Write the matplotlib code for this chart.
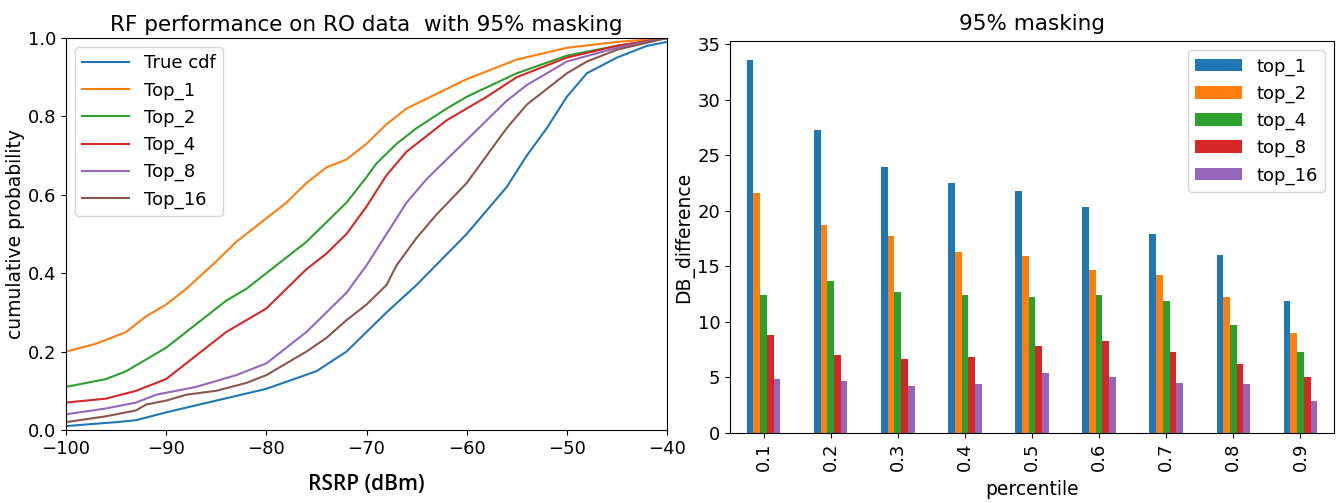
import numpy as np
import pandas as pd
import matplotlib
matplotlib.use("Agg")
import matplotlib.pyplot as plt

# ---- left panel: CDF curves (RSRP dBm, cumulative probability) ----
true_x = [-100, -95, -93, -90, -85, -80, -75, -72, -70, -68, -65, -60, -56, -54, -52, -50, -48, -45, -42, -40]
true_y = [0.01, 0.02, 0.025, 0.045, 0.075, 0.105, 0.15, 0.20, 0.25, 0.30, 0.37, 0.50, 0.62, 0.70, 0.77, 0.85, 0.91, 0.95, 0.98, 0.99]

top1_x = [-100, -97, -94, -92, -90, -88, -85, -83, -80, -78, -76, -74, -72, -70, -68, -66, -64, -62, -60, -55, -50, -45, -40]
top1_y = [0.20, 0.22, 0.25, 0.29, 0.32, 0.36, 0.43, 0.48, 0.54, 0.58, 0.63, 0.67, 0.69, 0.73, 0.78, 0.82, 0.845, 0.87, 0.895, 0.945, 0.975, 0.99, 1.0]

top2_x = [-100, -96, -94, -92, -90, -88, -86, -84, -82, -80, -78, -76, -74, -72, -70, -69, -67, -65, -62, -60, -55, -50, -45, -40]
top2_y = [0.11, 0.13, 0.15, 0.18, 0.21, 0.25, 0.29, 0.33, 0.36, 0.40, 0.44, 0.48, 0.53, 0.58, 0.645, 0.68, 0.73, 0.77, 0.82, 0.85, 0.91, 0.955, 0.98, 1.0]

top4_x = [-100, -96, -93, -91, -90, -88, -86, -84, -82, -80, -78, -76, -74, -72, -70, -68, -66, -64, -62, -60, -58, -55, -50, -45, -40]
top4_y = [0.07, 0.08, 0.10, 0.12, 0.13, 0.17, 0.21, 0.25, 0.28, 0.31, 0.36, 0.41, 0.45, 0.50, 0.57, 0.65, 0.71, 0.75, 0.79, 0.82, 0.85, 0.90, 0.95, 0.98, 1.0]

top8_x = [-100, -96, -93, -91, -89, -87, -85, -83, -80, -78, -76, -74, -72, -70, -68, -66, -64, -62, -60, -58, -56, -54, -52, -50, -45, -40]
top8_y = [0.04, 0.055, 0.07, 0.09, 0.10, 0.11, 0.125, 0.14, 0.17, 0.21, 0.25, 0.30, 0.35, 0.42, 0.50, 0.58, 0.64, 0.69, 0.74, 0.79, 0.84, 0.88, 0.91, 0.94, 0.975, 1.0]

top16_x = [-100, -96, -93, -92, -90, -88, -85, -82, -80, -78, -76, -74, -72, -70, -68, -67, -65, -63, -60, -58, -56, -54, -52, -50, -48, -45, -40]
top16_y = [0.02, 0.035, 0.05, 0.065, 0.075, 0.09, 0.10, 0.12, 0.14, 0.17, 0.20, 0.235, 0.28, 0.32, 0.37, 0.42, 0.49, 0.55, 0.63, 0.70, 0.77, 0.83, 0.87, 0.91, 0.94, 0.97, 1.0]

cdf_labels = ["True cdf", "Top_1", "Top_2", "Top_4", "Top_8", "Top_16"]

# ---- right panel: dB difference per percentile ----
percentiles = ["0.1", "0.2", "0.3", "0.4", "0.5", "0.6", "0.7", "0.8", "0.9"]
top_1 = [33.6, 27.3, 23.9, 22.5, 21.8, 20.3, 17.9, 16.0, 11.9]
top_2 = [21.6, 18.7, 17.7, 16.3, 15.9, 14.7, 14.2, 12.2, 9.0]
top_4 = [12.4, 13.7, 12.7, 12.4, 12.2, 12.4, 11.9, 9.7, 7.3]
top_8 = [8.8, 7.0, 6.7, 6.8, 7.8, 8.3, 7.3, 6.2, 5.0]
top_16 = [4.9, 4.7, 4.2, 4.4, 5.4, 5.0, 4.5, 4.4, 2.9]

plt.rcParams["font.size"] = 13

fig = plt.figure(figsize=(13.4, 5.03), dpi=100)
ax1 = fig.add_axes([66 / 1340, 1 - 430 / 503, 601 / 1340, 392 / 503])
ax2 = fig.add_axes([730 / 1340, 1 - 433 / 503, 604 / 1340, 392 / 503])

curves = [(true_x, true_y), (top1_x, top1_y), (top2_x, top2_y),
          (top4_x, top4_y), (top8_x, top8_y), (top16_x, top16_y)]
for (xs, ys), lab in zip(curves, cdf_labels):
    ax1.plot(xs, ys, label=lab, linewidth=1.5)
ax1.set_xlim(-100, -40)
ax1.set_ylim(0, 1)
ax1.set_ylabel("cumulative probability", fontsize=13.5, labelpad=2)
ax1.set_xlabel("RSRP (dBm)", fontsize=15, family="Open Sans", fontweight="semibold", labelpad=12)
ax1.set_title("RF performance on RO data  with 95% masking", fontsize=15.5, pad=5)
ax1.legend(loc="upper left", handlelength=2.6)

df = pd.DataFrame({"top_1": top_1, "top_2": top_2, "top_4": top_4,
                   "top_8": top_8, "top_16": top_16}, index=percentiles)
df.plot.bar(ax=ax2)
ax2.set_xlabel("percentile", fontsize=13.5, labelpad=6)
ax2.set_ylabel("DB_difference", fontsize=13.5, labelpad=2)
ax2.set_title("95% masking", fontsize=15.5, pad=8)
ax2.legend(loc="upper right", handlelength=2.6)

fig.savefig("out.png", dpi=100)
